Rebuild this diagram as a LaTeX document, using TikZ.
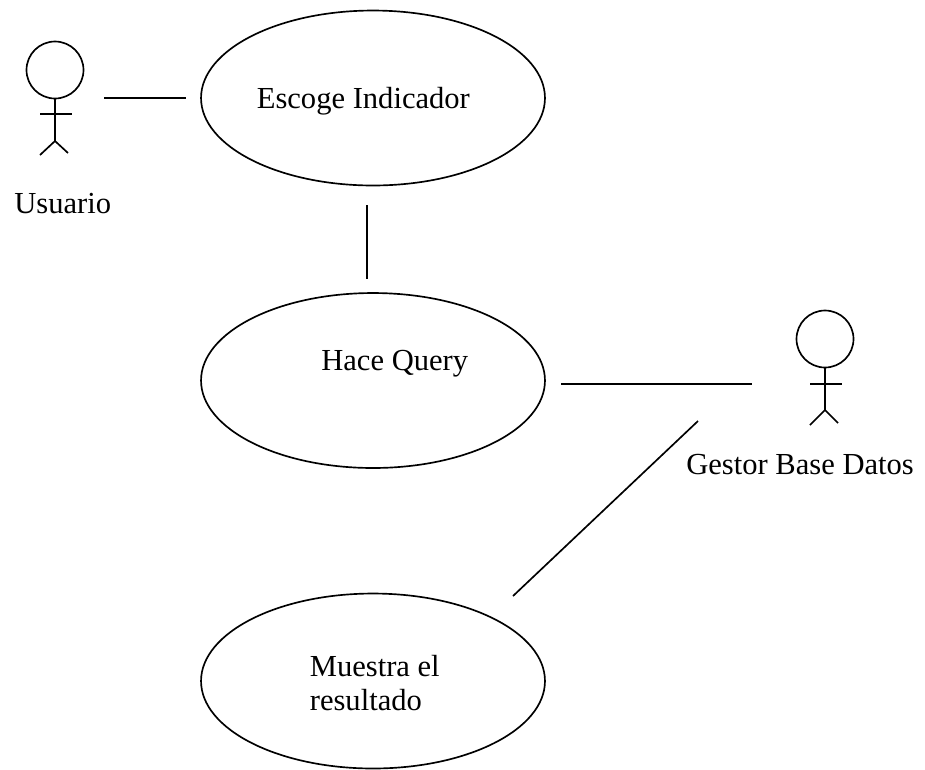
\documentclass[tikz,border=0pt]{standalone}
\usepackage{fontspec}
\setmainfont{Liberation Serif}
\usetikzlibrary{shapes.geometric}
\begin{document}
\begin{tikzpicture}[x=0.02cm, y=-0.02cm, line width=0.95pt,
        usecase/.style={ellipse, draw, minimum width=6.88cm, minimum height=3.5cm, inner sep=0pt, outer sep=0pt},
        head/.style={circle, draw, minimum size=1.14cm, inner sep=0pt, outer sep=0pt},
        label/.style={font=\fontsize{17.4}{19.3}\selectfont, anchor=base west, inner sep=0pt}]
            \useasboundingbox (0,0) rectangle (925,769);

            \node[usecase] (escoge) at (373,98) {};
            \node[usecase] (hace) at (373,380.5) {};
            \node[usecase] (muestra) at (373,681) {};

            \node[label] (escogetext) at (256,108) {Escoge Indicador};
            \node[label] (hacetext) at (320.5,370) {Hace Query};
            \node[label] (muestratext) at (309,676) {Muestra el};
            \node[label] (resultadotext) at (309,710) {resultado};
            \node[label] (usuario) at (13.5,213) {Usuario};
            \node[label] (gestor) at (685.5,474) {Gestor Base Datos};

            \node[head] (head1) at (55,70) {};
            \coordinate (hip1) at (55,141);
            \coordinate (larm1) at (40,114);
            \coordinate (rarm1) at (72,114);
            \coordinate (lleg1) at (40,155);
            \coordinate (rleg1) at (68,153);
            \draw (head1) -- (hip1);
            \draw (larm1) -- (rarm1);
            \draw (lleg1) -- (hip1) -- (rleg1);

            \node[head] (head2) at (825,339) {};
            \coordinate (hip2) at (825,410);
            \coordinate (larm2) at (810,384);
            \coordinate (rarm2) at (842,384);
            \coordinate (lleg2) at (810,425);
            \coordinate (rleg2) at (838,423);
            \draw (head2) -- (hip2);
            \draw (larm2) -- (rarm2);
            \draw (lleg2) -- (hip2) -- (rleg2);

            \coordinate (a1) at (104,98);
            \coordinate (a2) at (186,98);
            \coordinate (b1) at (367,205);
            \coordinate (b2) at (367,279);
            \coordinate (c1) at (561,384);
            \coordinate (c2) at (752,384);
            \coordinate (d1) at (513,596);
            \coordinate (d2) at (698,421);

            \draw (a1) -- (a2);
            \draw (b1) -- (b2);
            \draw (c1) -- (c2);
            \draw (d1) -- (d2);
        \end{tikzpicture}
\end{document}
